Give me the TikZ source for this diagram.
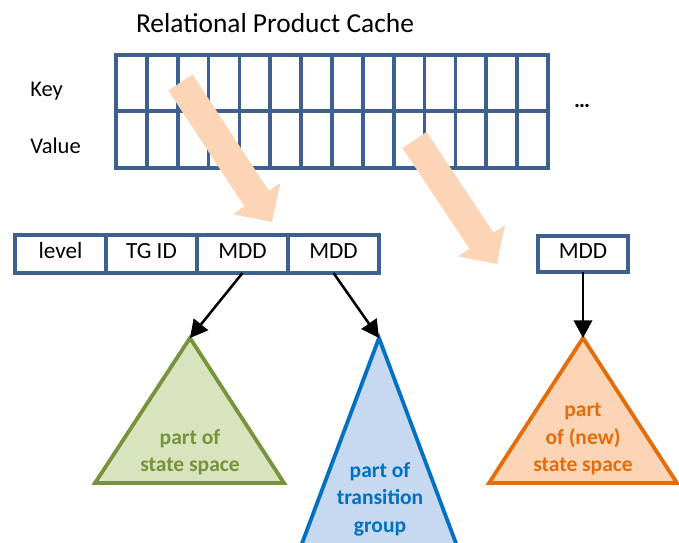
\documentclass[tikz,border=0pt]{standalone}
\usepackage{fontspec}
\setmainfont{Carlito}
\usepackage{tikz}
\usetikzlibrary{arrows.meta}
\definecolor{cacheblue}{HTML}{3F608F}
\definecolor{peach}{HTML}{FBD5B5}
\definecolor{ssgreen}{HTML}{77933C}
\definecolor{ssgreenF}{HTML}{D7E4BD}
\definecolor{tgblue}{HTML}{0070C0}
\definecolor{tgblueF}{HTML}{C6D9F1}
\definecolor{nsorange}{HTML}{E46C0A}
\definecolor{nsorangeF}{HTML}{FBD5B5}
\tikzstyle{gridL}=[draw=cacheblue, line width=2.7pt]
\tikzstyle{cell}=[draw=cacheblue, line width=2.7pt, minimum width=2.275cm, minimum height=0.95cm, inner sep=0pt, outer sep=0pt, text height=1.6ex, text depth=0.3ex, font=\fontsize{16.5}{19}\selectfont]
\tikzstyle{lbl}=[inner sep=0pt, font=\fontsize{16}{19}\selectfont]
\tikzstyle{ptr}=[line width=1.8pt, -{Triangle[width=13pt,length=12.5pt]}]
\tikzstyle{bigA}=[peach, line width=0.725cm, -{Triangle[width=1.375cm,length=0.7cm]}]
\tikzstyle{tri}=[line width=2.7pt]
\tikzstyle{tlbl}=[align=center, inner sep=0pt, font=\fontsize{15.3}{19.5}\selectfont\bfseries]

\begin{document}
\begin{tikzpicture}[x=0.025cm, y=-0.025cm]
    \clip (0,0) rectangle (679,542);

    %%%%%  Tabla de la cache  %%%%%
    \node (title) [lbl, anchor=base] at (275,32) {\fontsize{19.5}{23}\selectfont Relational Product Cache};
    \node (key) [lbl, anchor=base west] at (30,96) {Key};
    \node (val) [lbl, anchor=base west] at (30,153) {Value};
    \node (more) [lbl, anchor=base] at (582,107) {\bfseries …};

    \draw [gridL] (116,55) rectangle (548,168);
    \draw [gridL] (116,111) -- (548,111);
    \foreach \i in {1,...,13}
      \draw [gridL] ({116+\i*432/14},55) -- ({116+\i*432/14},168);

    %%%%%  Flechas grandes  %%%%%
    \coordinate (a1s) at (180.5,82.5);
    \coordinate (a1e) at (272,222);
    \coordinate (a2s) at (414.5,140);
    \coordinate (a2e) at (497,264);
    \draw [bigA] (a1s) -- (a1e);
    \draw [bigA] (a2s) -- (a2e);

    %%%%%  Entrada: clave y valor  %%%%%
    \node (lev) [cell] at (60.5,254) {level};
    \node (tg)  [cell] at (151.5,254) {TG ID};
    \node (m1)  [cell] at (242.5,254) {MDD};
    \node (m2)  [cell] at (333.5,254) {MDD};
    \node (res) [cell, minimum width=2.25cm, minimum height=0.9cm] at (583,254) {MDD};

    %%%%%  Arboles MDD  %%%%%
    \coordinate (ssTop) at (190,338);
    \coordinate (tgTop) at (379,338);
    \coordinate (nsTop) at (583,338);

    \draw [tri, draw=ssgreen, fill=ssgreenF] (ssTop) -- (95,483) -- (284,483) -- cycle;
    \draw [tri, draw=tgblue, fill=tgblueF] (tgTop) -- (292,570) -- (466,570) -- cycle;
    \draw [tri, draw=nsorange, fill=nsorangeF] (nsTop) -- (489,483) -- (677,483) -- cycle;

    \node (ssL) [tlbl, text=ssgreen] at (190,452) {part of\\state space};
    \node (tgL) [tlbl, text=tgblue] at (380,499) {part of\\transition\\group};
    \node (nsL) [tlbl, text=nsorange] at (583,439) {part\\of (new)\\state space};

    \draw [ptr] (m1.south) -- (ssTop);
    \draw [ptr] (m2.south) -- (tgTop);
    \draw [ptr] (res.south) -- (nsTop);
\end{tikzpicture}
\end{document}
